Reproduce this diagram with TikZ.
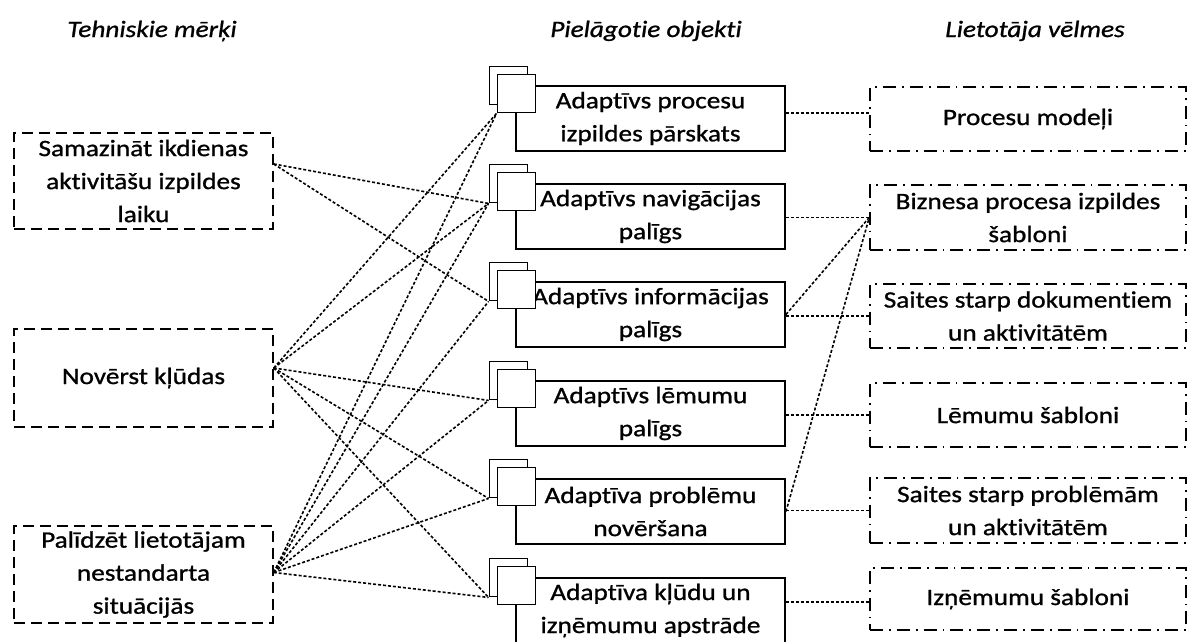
\documentclass[tikz,border=0pt]{standalone}
\usepackage{fontspec}
\setmainfont{Carlito}[FakeStretch=1.16, FakeBold=1.0, Ligatures=NoCommon]
\begin{document}
\begin{tikzpicture}[x=1pt, y=-1pt,
  txt/.style={font=\fontsize{23.5}{33}\selectfont, align=center, inner sep=0pt},
  head/.style={font=\fontsize{23.5}{33}\selectfont\itshape, inner sep=0pt, anchor=base},
  goalbox/.style={txt, draw, line width=1.5pt, dash pattern=on 11pt off 6pt,
    minimum width=259pt},
  wishbox/.style={txt, draw, line width=1.5pt, dash pattern=on 13pt off 6pt on 1.8pt off 6pt,
    minimum width=316pt},
  objbox/.style={txt, draw, line width=1.9pt, minimum width=269pt, minimum height=65pt},
  tabsq/.style={draw, fill=white, line width=1.9pt, minimum size=38pt, inner sep=0pt},
  link/.style={line width=1.6pt, dash pattern=on 3pt off 2pt}
]
\useasboundingbox (0,0) rectangle (1187,641);

% column headings
\node[head] (h1) at (152,37) {Tehniskie mērķi};
\node[head] (h2) at (646,37) {Pielāgotie objekti};
\node[head] (h3) at (1035,37) {Lietotāja vēlmes};

% technical goals
\node[goalbox, minimum height=96pt] (L1) at (143.5,181) {Samazināt ikdienas\\aktivitāšu izpildes\\laiku};
\node[goalbox, minimum height=98pt] (L2) at (143.5,378) {Novērst kļūdas};
\node[goalbox, minimum height=97pt] (L3) at (143.5,574.5) {Palīdzēt lietotājam\\nestandarta\\situācijās};

% adapted objects: box with two overlapping tabs
\foreach \i/\t/\txt in {
  1/67/{Adaptīvs procesu\\izpildes pārskats},
  2/165/{Adaptīvs navigācijas\\palīgs},
  3/263/{Adaptīvs informācijas\\palīgs},
  4/362/{Adaptīvs lēmumu\\palīgs},
  5/460/{Adaptīva problēmu\\novēršana},
  6/559/{Adaptīva kļūdu un\\izņēmumu apstrāde}}{
  \node[objbox] (M\i) at (650.5,{\t+51.5}) {\txt};
  \node[tabsq] (B\i) at (508.5,{\t+18.5}) {};
  \node[tabsq] (F\i) at (516.5,{\t+26.5}) {};
}

% user wishes
\node[wishbox, minimum height=64pt] (R1) at (1028,119) {Procesu modeļi};
\node[wishbox, minimum height=65pt] (R2) at (1028,217.5) {Biznesa procesa izpildes\\šabloni};
\node[wishbox, minimum height=64pt] (R3) at (1028,316) {Saites starp dokumentiem\\un aktivitātēm};
\node[wishbox, minimum height=64pt] (R4) at (1028,415) {Lēmumu šabloni};
\node[wishbox, minimum height=65pt] (R5) at (1028,510.5) {Saites starp problēmām\\un aktivitātēm};
\node[wishbox, minimum height=62pt] (R6) at (1028,599) {Izņēmumu šabloni};

% connector end points
\coordinate (L1o) at ([yshift=17pt]L1.east);
\coordinate (L2o) at ([yshift=10pt]L2.east);
\coordinate (L3o) at ([yshift=2pt]L3.east);
\coordinate (R1i) at ([yshift=6pt]R1.west);
\coordinate (R6i) at ([yshift=-3pt]R6.west);

% goals to objects
\draw[link] (L1o) -- (B2.south west);
\draw[link] (L1o) -- (B3.south west);
\draw[link] (L2o) -- (F1.south west);
\foreach \j in {2,4,5,6}{\draw[link] (L2o) -- (B\j.south west);}
\draw[link] (L3o) -- (F1.south west);
\foreach \j in {2,...,6}{\draw[link] (L3o) -- (B\j.south west);}

% objects to wishes
\draw[link] (M1.east |- R1i) -- (R1i);
\draw[link] (M2.east |- R2.west) -- (R2.west);
\draw[link] (M3.east |- R3.west) -- (R3.west);
\draw[link] (M4.east |- R4.west) -- (R4.west);
\draw[link] (M5.east |- R5.west) -- (R5.west);
\draw[link] (M6.east |- R6i) -- (R6i);
\draw[link] (M3.east) -- (R2.west);
\draw[link] (M5.east) -- (R2.west);
\end{tikzpicture}
\end{document}
